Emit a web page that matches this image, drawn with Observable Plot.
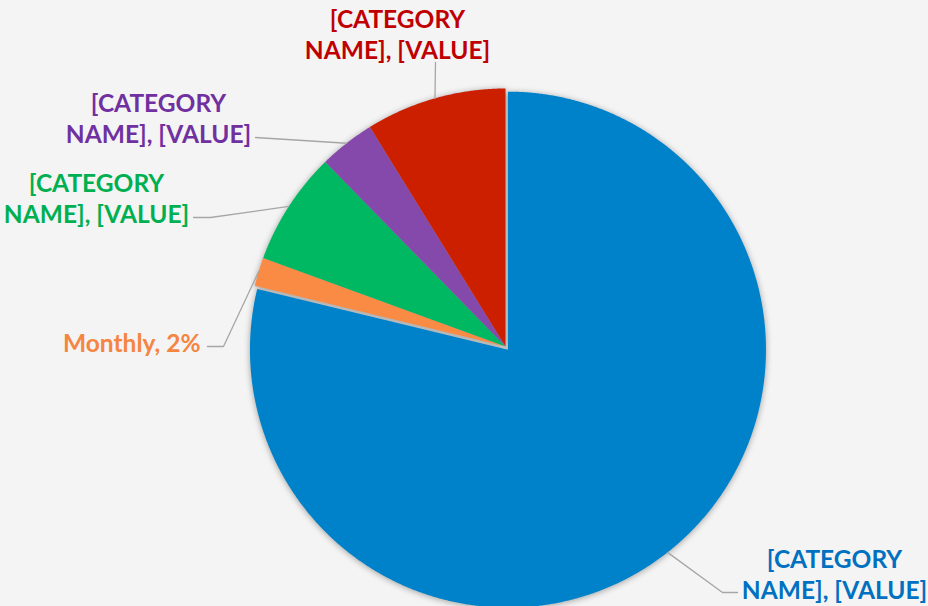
<!DOCTYPE html>
<html><head><meta charset="utf-8">
<script src="https://cdn.jsdelivr.net/npm/d3@7"></script>
<script src="https://cdn.jsdelivr.net/npm/@observablehq/plot@0.6"></script>
<style>html,body{margin:0;padding:0;background:#f4f4f4;overflow:hidden;}</style>
</head><body><div id="chart"></div><script>
// ---- data ----
const categories = ["[CATEGORY NAME]", "Monthly", "[CATEGORY NAME]", "[CATEGORY NAME]", "[CATEGORY NAME]"];
const values = [78.7, 1.8, 7.1, 3.5, 8.8];
const labelTexts = ["[CATEGORY\nNAME], [VALUE]", "Monthly, 2%", "[CATEGORY\nNAME], [VALUE]", "[CATEGORY\nNAME], [VALUE]", "[CATEGORY\nNAME], [VALUE]"];

// ---- style / layout ----
const sliceColors = ["#0082CA", "#F98B45", "#00B862", "#8549AC", "#CC1F00"];
const labelColors = ["#0070C0", "#F58540", "#00B050", "#7030A0", "#C00000"];
const W = 928, H = 606, CX = 505, CY = 346, R = 258;
const explode = [4, 0, 0, 0, 0];
const FS = 24.5;
const labelLayout = [
  {leader: [[722, 592], [737, 592]], tx: 834, base: 563, anchor: "middle"},
  {leader: [[223, 346], [207, 346]], tx: 200, base: 347, anchor: "end"},
  {leader: [[210, 217], [193, 217]], tx: 96, base: 187, anchor: "middle"},
  {leader: [[255, 137]], tx: 158, base: 107, anchor: "middle"},
  {leader: [[435, 62]], tx: 397, base: 23, anchor: "middle"}
];

const arcs = d3.pie().sort(null).value(d => d)(values);
const sliceRows = [], leaderRows = [], textRows = [];
arcs.forEach((a, i) => {
  const mid = (a.startAngle + a.endAngle) / 2;
  const cx = CX + explode[i] * Math.sin(mid), cy = CY - explode[i] * Math.cos(mid);
  sliceRows.push({k: i, x: cx, y: cy, fill: sliceColors[i]});
  const n = Math.max(2, Math.ceil((a.endAngle - a.startAngle) / 0.005));
  for (let j = 0; j <= n; j++) {
    const t = a.startAngle + (a.endAngle - a.startAngle) * j / n;
    sliceRows.push({k: i, x: cx + R * Math.sin(t), y: cy - R * Math.cos(t), fill: sliceColors[i]});
  }
  const L = labelLayout[i];
  leaderRows.push({k: i, x: cx + R * Math.sin(mid), y: cy - R * Math.cos(mid)});
  L.leader.forEach(([x, y]) => leaderRows.push({k: i, x, y}));
  textRows.push({k: i, x: L.tx, y: L.base - 0.71 * FS, text: labelTexts[i], fill: labelColors[i], anchor: L.anchor});
});

const chart = Plot.plot({
  width: W, height: H,
  margin: 0,
  style: {background: "#f4f4f4"},
  x: {domain: [0, W], range: [0, W], axis: null},
  y: {domain: [0, H], range: [0, H], axis: null},
  color: {type: "identity"},
  marks: [
    Plot.line(sliceRows, {x: "x", y: "y", z: "k", fill: "fill", stroke: "none", curve: "linear-closed"}),
    Plot.line(leaderRows, {x: "x", y: "y", z: "k", stroke: "#A6A6A6", strokeWidth: 1.3}),
    ...["middle", "end"].map(an => Plot.text(textRows.filter(d => d.anchor === an), {
      x: "x", y: "y", text: "text", fill: "fill", textAnchor: an, lineAnchor: "top",
      fontSize: FS, fontWeight: "bold", fontFamily: "Lato", lineHeight: 31 / FS
    }))
  ]
});
document.getElementById("chart").appendChild(chart);
const g = chart.querySelector('g[aria-label="line"]');
if (g) g.style.filter = "drop-shadow(0px 1px 3px rgba(0,0,0,0.35))";
</script></body></html>
